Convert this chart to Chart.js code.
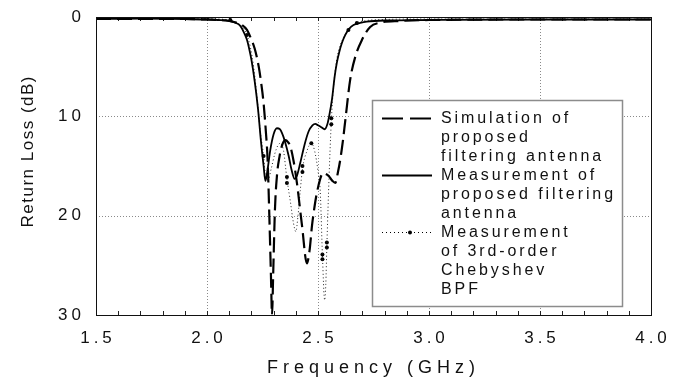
<!DOCTYPE html>
<html><head><meta charset="utf-8">
<script src="https://cdn.jsdelivr.net/npm/chart.js@4/dist/chart.umd.min.js"></script>
<style>html,body{margin:0;padding:0;background:#fff}canvas{display:block}</style>
</head><body>
<canvas id="c" width="678" height="385"></canvas>
<script>
// ---- data (frequency in GHz, return loss in dB) ----
const simFreq = [1.5,1.7,1.9,2.0,2.05,2.1,2.13,2.157,2.18,2.195,2.215,2.233,2.245,2.255,2.265,2.273,2.282,2.288,2.293,2.298,2.306,2.315,2.327,2.34,2.353,2.365,2.375,2.39,2.405,2.428,2.45,2.462,2.473,2.485,2.495,2.51,2.522,2.535,2.548,2.565,2.578,2.59,2.60,2.612,2.623,2.645,2.668,2.698,2.735,2.78,2.87,3.0,3.5,4.0];
const simRL   = [0.2,0.2,0.2,0.25,0.3,0.4,0.55,0.8,1.3,2.0,3.2,5.0,6.8,8.7,11.5,14.4,21,26,30,26,19.4,16,14.0,12.8,12.4,12.6,13.0,14.5,16.7,21,24.8,23.5,21,19,17.7,16.3,15.7,15.8,16.0,16.5,16.7,15.6,14.4,12.5,10.4,6.3,4.0,2.3,1.0,0.57,0.4,0.3,0.25,0.25];

const measFreq = [1.5,1.7,1.9,2.0,2.05,2.1,2.13,2.15,2.165,2.18,2.19,2.20,2.215,2.23,2.243,2.255,2.263,2.272,2.285,2.3,2.315,2.328,2.338,2.352,2.368,2.38,2.395,2.405,2.42,2.44,2.458,2.475,2.488,2.5,2.515,2.53,2.542,2.55,2.563,2.575,2.585,2.595,2.608,2.623,2.64,2.66,2.69,2.72,2.8,3.0,3.5,4.0];
const measRL   = [0.2,0.15,0.2,0.25,0.3,0.4,0.6,0.9,1.5,2.3,3.2,4.3,6.5,9.3,12.5,15,16.5,15.5,13.4,11.8,11.2,11.3,11.7,12.6,14.0,15.3,16.3,16.0,14.7,12.8,11.5,10.9,10.75,10.9,11.1,11.3,10.8,10.0,8.3,6.0,4.6,3.6,2.6,1.8,1.2,0.8,0.6,0.47,0.35,0.3,0.25,0.25];

const bpfFreq = [1.5,1.7,1.9,2.0,2.05,2.1,2.13,2.155,2.17,2.18,2.195,2.21,2.225,2.24,2.255,2.265,2.275,2.29,2.305,2.32,2.332,2.345,2.36,2.375,2.39,2.40,2.41,2.42,2.43,2.45,2.47,2.485,2.50,2.51,2.52,2.53,2.535,2.54,2.55,2.56,2.57,2.585,2.61,2.637,2.675,2.72,2.8,3.0,3.5,4.0];
const bpfRL   = [0.1,0.1,0.1,0.15,0.2,0.3,0.5,0.9,1.3,1.8,3.0,5.0,8,11.5,14,16.2,16.4,15.2,13.8,12.9,12.7,13.5,16.3,18.5,20.8,21.6,20,17.5,15.3,13.5,12.7,13.5,15.5,17.5,24,28.5,27,23,16,10.5,7,4.2,2.3,1.3,0.6,0.35,0.25,0.2,0.2,0.2];

const bpfMarkFreq = [1.54,1.71,1.89,2.105,2.18,2.255,2.36,2.36,2.43,2.43,2.47,2.52,2.52,2.54,2.54,2.56,2.56,2.637,2.675];
const bpfMarkRL   = [0.1,0.1,0.1,0.3,1.8,14,16.1,16.7,15.0,15.6,12.7,23.9,24.4,22.7,23.2,10.2,10.8,1.3,0.6];

const xTickLabels = ['1.5','2.0','2.5','3.0','3.5','4.0'];
const yTickLabels = ['0','10','20','30'];
const xTitle = 'Frequency (GHz)';
const yTitle = 'Return Loss (dB)';
const legendEntries = [
  ['Simulation of','proposed','filtering antenna'],
  ['Measurement of','proposed filtering','antenna'],
  ['Measurement','of 3rd-order','Chebyshev','BPF']
];

const toPts = (xs, ys) => xs.map((x, i) => ({x: x, y: ys[i]}));
const FONT = '"Liberation Sans", Arial, sans-serif';
const DASH = [15, 6];

function spacedText(ctx, text, x, y, spacing, align) {
  ctx.letterSpacing = spacing + 'px';
  const w = ctx.measureText(text).width - spacing;
  let x0 = x;
  if (align === 'center') x0 = x - w / 2;
  else if (align === 'right') x0 = x - w;
  ctx.textAlign = 'left';
  ctx.fillText(text, x0, y);
  ctx.letterSpacing = '0px';
}

const decor = {
  id: 'decor',
  beforeDatasetsDraw(chart) {
    const {ctx, chartArea: a, scales: {x, y}} = chart;
    ctx.save();
    ctx.strokeStyle = '#8a8a8a';
    ctx.lineWidth = 1;
    ctx.setLineDash([1, 2]);
    xTickLabels.forEach(t => {
      const v = parseFloat(t);
      if (v <= x.min || v >= x.max) return;
      const px = Math.round(x.getPixelForValue(v)) + 0.5;
      ctx.beginPath(); ctx.moveTo(px, a.top); ctx.lineTo(px, a.bottom); ctx.stroke();
    });
    yTickLabels.forEach(t => {
      const v = parseFloat(t);
      if (v <= y.min || v >= y.max) return;
      const py = Math.round(y.getPixelForValue(v)) + 0.5;
      ctx.beginPath(); ctx.moveTo(a.left, py); ctx.lineTo(a.right, py); ctx.stroke();
    });
    ctx.setLineDash([]);
    ctx.strokeStyle = '#222';
    for (let k = Math.round(x.min * 10); k <= Math.round(x.max * 10); k++) {
      const px = Math.round(x.getPixelForValue(k / 10)) + 0.5;
      ctx.beginPath();
      ctx.moveTo(px, a.bottom); ctx.lineTo(px, a.bottom - 4);
      ctx.moveTo(px, a.top); ctx.lineTo(px, a.top + 4);
      ctx.stroke();
    }
    ctx.restore();
  },
  afterDraw(chart) {
    const {ctx, chartArea: a, scales: {x, y}} = chart;
    ctx.save();
    ctx.strokeStyle = '#111';
    ctx.lineWidth = 1;
    ctx.strokeRect(Math.round(a.left) + 0.5, Math.round(a.top) + 0.5, Math.round(a.right - a.left), Math.round(a.bottom - a.top));
    ctx.fillStyle = '#111';
    ctx.font = '17px ' + FONT;
    ctx.textBaseline = 'middle';
    xTickLabels.forEach(t => spacedText(ctx, t, x.getPixelForValue(parseFloat(t)), 338, 4, 'center'));
    yTickLabels.forEach(t => spacedText(ctx, t, 81, y.getPixelForValue(parseFloat(t)), 4, 'right'));
    ctx.font = '18px ' + FONT;
    spacedText(ctx, xTitle, 371, 368, 5, 'center');
    ctx.save();
    ctx.translate(28, 152);
    ctx.rotate(-Math.PI / 2);
    ctx.font = '17px ' + FONT;
    spacedText(ctx, yTitle, 0, 0, 1.5, 'center');
    ctx.restore();
    // legend
    const L = 372, T = 100, R = 622, B = 306;
    ctx.fillStyle = '#fff';
    ctx.fillRect(L, T, R - L, B - T);
    ctx.strokeStyle = '#8c8c8c';
    ctx.lineWidth = 1.5;
    ctx.strokeRect(L + 0.5, T + 0.5, R - L, B - T);
    const sx0 = 382, sx1 = 432, tx = 441, y0 = 118.5, lh = 19;
    ctx.font = '16px ' + FONT;
    ctx.fillStyle = '#111';
    let line = 0;
    legendEntries.forEach((entry, i) => {
      const ly = y0 + line * lh;
      ctx.strokeStyle = '#000';
      ctx.beginPath();
      if (i === 0) { ctx.lineWidth = 2.2; ctx.setLineDash([21, 7]); }
      else if (i === 1) { ctx.lineWidth = 1.8; ctx.setLineDash([]); }
      else { ctx.lineWidth = 1; ctx.setLineDash([1, 3]); }
      ctx.moveTo(sx0, ly); ctx.lineTo(sx1, ly); ctx.stroke();
      ctx.setLineDash([]);
      if (i === 2) { ctx.beginPath(); ctx.arc(410, ly, 2, 0, Math.PI * 2); ctx.fillStyle = '#000'; ctx.fill(); ctx.fillStyle = '#111'; }
      entry.forEach(t => { spacedText(ctx, t, tx, y0 + line * lh, 2.9, 'left'); line++; });
    });
    ctx.restore();
  }
};

new Chart(document.getElementById('c'), {
  type: 'line',
  data: {
    datasets: [
      { label: 'sim', data: toPts(simFreq, simRL), borderColor: '#000', borderWidth: 2.2, borderDash: DASH, pointRadius: 0, tension: 0.25, cubicInterpolationMode: 'monotone' },
      { label: 'meas', data: toPts(measFreq, measRL), borderColor: '#000', borderWidth: 1.8, pointRadius: 0, tension: 0.25, cubicInterpolationMode: 'monotone' },
      { label: 'bpf', data: toPts(bpfFreq, bpfRL), borderColor: '#222', borderWidth: 1, borderDash: [1, 2.5], pointRadius: 0, tension: 0.25, cubicInterpolationMode: 'monotone' },
      { label: 'bpfMarks', data: toPts(bpfMarkFreq, bpfMarkRL), showLine: false, pointRadius: 2, pointBackgroundColor: '#000', pointBorderWidth: 0, borderColor: '#000' }
    ]
  },
  options: {
    responsive: false,
    animation: false,
    devicePixelRatio: 1,
    layout: { padding: { left: 96, top: 17, right: 27, bottom: 70 } },
    plugins: { legend: { display: false }, tooltip: { enabled: false } },
    scales: {
      x: { type: 'linear', min: 1.5, max: 4.0, ticks: { display: false }, grid: { display: false, drawTicks: false }, border: { display: false }, title: { display: false } },
      y: { type: 'linear', reverse: true, min: 0, max: 30, ticks: { display: false }, grid: { display: false, drawTicks: false }, border: { display: false }, title: { display: false } }
    }
  },
  plugins: [decor]
});
</script>
</body></html>
